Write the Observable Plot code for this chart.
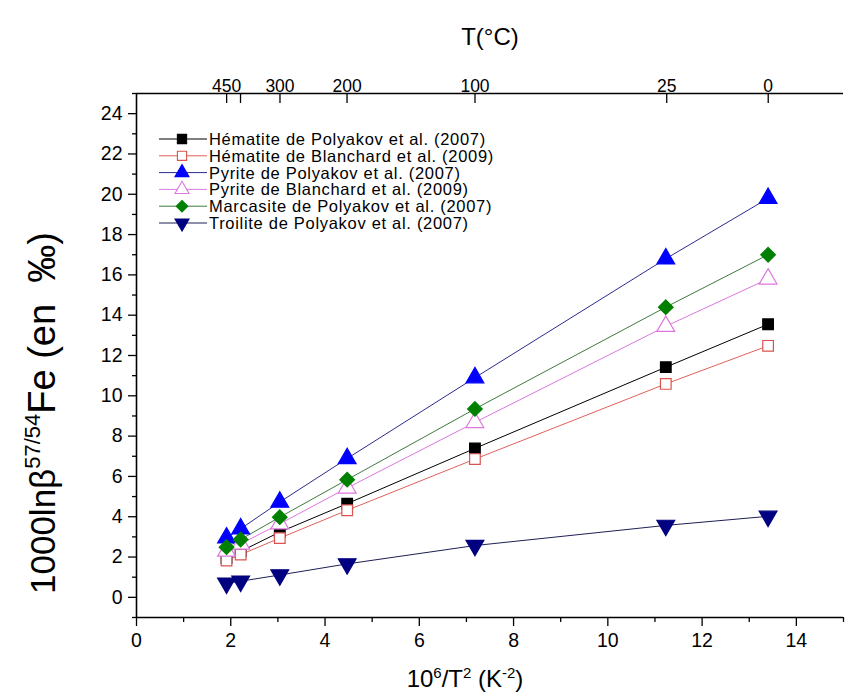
<!DOCTYPE html>
<html>
<head>
<meta charset="utf-8">
<script src="https://cdn.jsdelivr.net/npm/d3@7"></script>
<script src="https://cdn.jsdelivr.net/npm/@observablehq/plot@0.6"></script>
<style>
  html, body { margin: 0; padding: 0; background: #fff; }
  #chart { width: 853px; height: 697px; }
  svg { font-family: "Liberation Sans", Arial, sans-serif; }
</style>
</head>
<body>
<div id="chart"></div>
<script>
// ---------- data ----------
const xValues = [1.91, 2.21, 3.04, 4.47, 7.18, 11.23, 13.40];   // 10^6/T^2 (K^-2)
const hematitePolyakov  = [1.95, 2.28, 3.24, 4.65, 7.39, 11.42, 13.55];
const hematiteBlanchard = [1.83, 2.12, 2.94, 4.32, 6.86, 10.59, 12.48];
const pyritePolyakov    = [2.95, 3.40, 4.73, 6.89, 10.90, 16.80, 19.80];
const pyriteBlanchard   = [2.30, 2.65, 3.65, 5.43, 8.68, 13.45, 15.80];
const marcasitePolyakov = [2.49, 2.87, 3.98, 5.84, 9.35, 14.40, 17.00];
const troilitePolyakov  = [0.70, 0.80, 1.11, 1.66, 2.57, 3.57, 4.02];

const seriesNames = [
  "Hématite de Polyakov et al. (2007)",
  "Hématite de Blanchard et al. (2009)",
  "Pyrite de Polyakov et al. (2007)",
  "Pyrite de Blanchard et al. (2009)",
  "Marcasite de Polyakov et al. (2007)",
  "Troilite de Polyakov et al. (2007)"
];
const seriesValues = [hematitePolyakov, hematiteBlanchard, pyritePolyakov, pyriteBlanchard, marcasitePolyakov, troilitePolyakov];

const xMajorTicks = [0, 2, 4, 6, 8, 10, 12, 14];
const xMinorTicks = [1, 3, 5, 7, 9, 11, 13, 15];
const yMajorTicks = [0, 2, 4, 6, 8, 10, 12, 14, 16, 18, 20, 22, 24];
const yMinorTicks = [-1, 1, 3, 5, 7, 9, 11, 13, 15, 17, 19, 21, 23, 25];
const xDomain = [0, 15];
const yDomain = [-1, 25];
const topTempTicks  = [450, 400, 300, 200, 100, 25, 0];       // °C
const topTempLabels = ["450", "", "300", "200", "100", "25", "0"];

// ---------- styles ----------
const styles = [
  {symbol: "square",   fill: "#000000", stroke: "#000000", line: "#000000", r: 6.0, rotate: 0},
  {symbol: "square",   fill: "#ffffff", stroke: "#d9534f", line: "#e0605a", r: 6.0, rotate: 0},
  {symbol: "triangle", fill: "#0000ff", stroke: "#0000ff", line: "#2b2b8f", r: 6.6, rotate: 0},
  {symbol: "triangle", fill: "#ffffff", stroke: "#dd77dd", line: "#dd77dd", r: 6.6, rotate: 0},
  {symbol: "diamond2", fill: "#008000", stroke: "#008000", line: "#3f7a3f", r: 6.6, rotate: 0},
  {symbol: "triangle", fill: "#000080", stroke: "#000080", line: "#1e1e55", r: 6.6, rotate: 180}
];

const rows = [];
seriesValues.forEach((vals, s) => vals.forEach((v, i) => rows.push({series: s, x: xValues[i], y: v})));

const topPositions = topTempTicks.map(t => 1e6 / Math.pow(t + 273.15, 2));
const topLabelMap = new Map(topPositions.map((p, i) => [p, topTempLabels[i]]));

const marks = [
  Plot.ruleY([yDomain[0]], {stroke: "black", strokeWidth: 1.6}),
  Plot.ruleY([yDomain[1]], {stroke: "black", strokeWidth: 1.6}),
  Plot.ruleX([xDomain[0]], {stroke: "black", strokeWidth: 1.6}),
  Plot.axisY({ticks: yMajorTicks, tickSize: 8, tickPadding: 6, fontSize: 19.5, label: null, strokeWidth: 1.3}),
  Plot.axisY({ticks: yMinorTicks, tickSize: 4, tickFormat: () => "", label: null, strokeWidth: 1.3}),
  Plot.axisX({ticks: xMajorTicks, tickSize: 9, tickPadding: 7, fontSize: 19.5, label: null, strokeWidth: 1.3}),
  Plot.axisX({ticks: xMinorTicks, tickSize: 5, tickFormat: () => "", label: null, strokeWidth: 1.3}),
  Plot.axisX({anchor: "top", ticks: topPositions, tickSize: -9, tickPadding: 11, fontSize: 17.5,
              tickFormat: d => topLabelMap.get(d), label: null, strokeWidth: 1.3})
];

seriesValues.forEach((vals, s) => {
  const st = styles[s];
  const data = rows.filter(d => d.series === s);
  marks.push(Plot.line(data, {x: "x", y: "y", stroke: st.line, strokeWidth: 1}));
});
seriesValues.forEach((vals, s) => {
  const st = styles[s];
  const data = rows.filter(d => d.series === s);
  marks.push(Plot.dot(data, {x: "x", y: "y", symbol: st.symbol, r: st.r, fill: st.fill,
                             stroke: st.stroke, strokeWidth: 1.2, rotate: st.rotate}));
});

const chart = Plot.plot({
  width: 853,
  height: 697,
  marginLeft: 136,
  marginRight: 10,
  marginTop: 93,
  marginBottom: 80,
  x: {domain: xDomain},
  y: {domain: yDomain},
  style: {fontFamily: "Liberation Sans, Arial, sans-serif", fontSize: "17px", color: "black", background: "white"},
  marks
});
document.getElementById("chart").appendChild(chart);

const svg = d3.select(chart);
const symbolMap = {square: d3.symbolSquare, triangle: d3.symbolTriangle, diamond2: d3.symbolDiamond2};

// ---------- titles ----------
svg.append("text").attr("x", 490).attr("y", 45).attr("text-anchor", "middle")
  .attr("font-size", 24).attr("fill", "black").text("T(°C)");

const bt = svg.append("text").attr("x", 465).attr("y", 687).attr("text-anchor", "middle")
  .attr("font-size", 24).attr("fill", "black");
bt.append("tspan").text("10");
bt.append("tspan").attr("font-size", 15).attr("dy", -9).text("6");
bt.append("tspan").attr("dy", 9).text("/T");
bt.append("tspan").attr("font-size", 15).attr("dy", -9).text("2");
bt.append("tspan").attr("dy", 9).text(" (K");
bt.append("tspan").attr("font-size", 15).attr("dy", -9).text("-2");
bt.append("tspan").attr("dy", 9).text(")");

const yt = svg.append("text").attr("transform", "translate(55,594) rotate(-90)")
  .attr("text-anchor", "start").attr("fill", "black").attr("font-size", 35);
yt.append("tspan").text("1000lnβ");
yt.append("tspan").attr("font-size", 22).attr("dy", -15).text("57/54");
yt.append("tspan").attr("dy", 15).attr("font-size", 38).text("Fe (en  ‰)");

// ---------- legend ----------
const lg = svg.append("g");
seriesNames.forEach((name, i) => {
  const st = styles[i];
  const cy = 139 + i * 16.8;
  lg.append("line").attr("x1", 159).attr("x2", 207).attr("y1", cy).attr("y2", cy)
    .attr("stroke", st.line).attr("stroke-width", 1);
  lg.append("path")
    .attr("d", d3.symbol(symbolMap[st.symbol], Math.PI * 5.2 * 5.2)())
    .attr("transform", `translate(182,${cy}) rotate(${st.rotate})`)
    .attr("fill", st.fill).attr("stroke", st.stroke).attr("stroke-width", 1.1);
  lg.append("text").attr("x", 209).attr("y", cy).attr("dy", "0.36em")
    .attr("text-anchor", "start").attr("letter-spacing", 0.7)
    .attr("font-size", 16.5).attr("fill", "black").text(name);
});
</script>
</body>
</html>
